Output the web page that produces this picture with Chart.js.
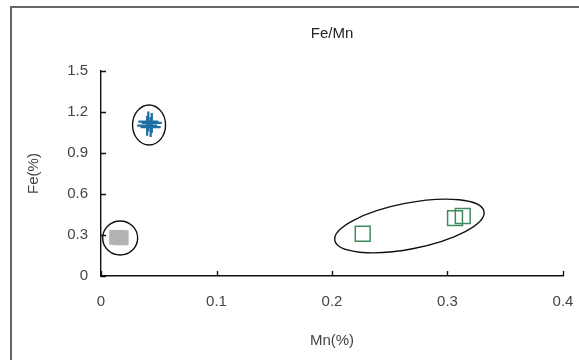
<!DOCTYPE html>
<html>
<head>
<meta charset="utf-8">
<script src="https://cdn.jsdelivr.net/npm/chart.js@4.4.0/dist/chart.umd.min.js"></script>
<style>
  html, body { margin: 0; padding: 0; background: #fff; }
  #wrap { position: relative; width: 579px; height: 360px; overflow: hidden; }
  #frame { position: absolute; left: 10px; top: 6px; width: 600px; height: 400px;
           border-top: 2px solid #666; border-left: 2px solid #666; box-sizing: border-box; }
  canvas { position: absolute; left: 0; top: 0; }
</style>
</head>
<body>
<div id="wrap">
  <div id="frame"></div>
  <canvas id="c" width="579" height="360"></canvas>
</div>
<script>
// Sample groups: Mn (%) vs Fe (%)
const groupA_mn = [0.040, 0.044, 0.041, 0.043];
const groupA_fe = [1.10, 1.12, 1.13, 1.09];
const groupB_mn = [0.0135, 0.0175, 0.0160];
const groupB_fe = [0.283, 0.279, 0.281];
const groupC_mn = [0.2266, 0.3065, 0.3132];
const groupC_fe = [0.309, 0.424, 0.439];

// Cluster outlines: centres in data units
const ringCenters_mn = [0.0416, 0.0166, 0.267];
const ringCenters_fe = [1.105, 0.278, 0.366];

const xTicks = [0, 0.1, 0.2, 0.3, 0.4];
const yTicks = [0, 0.3, 0.6, 0.9, 1.2, 1.5];

const pts = (xs, ys) => xs.map((x, i) => ({ x, y: ys[i] }));

// outline sizes (pixels) and tilt for each cluster ring
const ringShapes = [
  { rx: 16.5, ry: 20, rot: 0 },
  { rx: 17.5, ry: 17, rot: 0 },
  { rx: 76, ry: 23, rot: -11 * Math.PI / 180 }
];

const ringPlugin = {
  id: 'rings',
  afterDatasetsDraw(chart) {
    const { ctx, scales: { x, y } } = chart;
    ctx.save();
    ctx.strokeStyle = '#111';
    ctx.lineWidth = 1.4;
    ringCenters_mn.forEach((mn, i) => {
      const s = ringShapes[i];
      ctx.beginPath();
      ctx.ellipse(x.getPixelForValue(mn), y.getPixelForValue(ringCenters_fe[i]), s.rx, s.ry, s.rot, 0, Math.PI * 2);
      ctx.stroke();
    });
    ctx.restore();
  }
};

// inward tick marks along both axes
const innerTicks = {
  id: 'innerTicks',
  afterDraw(chart) {
    const { ctx, chartArea: a, scales: { x, y } } = chart;
    ctx.save();
    ctx.strokeStyle = '#111';
    ctx.lineWidth = 1.4;
    ctx.beginPath();
    x.ticks.forEach(t => {
      const px = Math.round(x.getPixelForValue(t.value)) + 0.5;
      ctx.moveTo(px, a.bottom); ctx.lineTo(px, a.bottom - 5);
    });
    y.ticks.forEach(t => {
      const py = Math.round(y.getPixelForValue(t.value)) + 0.5;
      ctx.moveTo(a.left, py); ctx.lineTo(a.left + 5, py);
    });
    ctx.stroke();
    ctx.restore();
  }
};

const font = { family: "'Liberation Sans', Arial, sans-serif", size: 15 };

new Chart(document.getElementById('c'), {
  type: 'scatter',
  data: {
    datasets: [
      { data: pts(groupB_mn, groupB_fe), pointStyle: 'rect', pointRadius: 10.5,
        backgroundColor: '#b3b3b3', borderColor: '#b3b3b3', borderWidth: 0 },
      { data: pts(groupA_mn, groupA_fe), pointStyle: 'cross', pointRadius: 10,
        borderColor: '#1c6ea4', borderWidth: 2.2 },
      { data: pts(groupC_mn, groupC_fe), pointStyle: 'rect', pointRadius: 10.5,
        backgroundColor: 'rgba(0,0,0,0)', borderColor: '#3d8b5e', borderWidth: 1.5 }
    ]
  },
  options: {
    responsive: false,
    animation: false,
    events: [],
    layout: { padding: { left: 20, top: 15, right: 16, bottom: 8 } },
    plugins: {
      legend: { display: false },
      tooltip: { enabled: false },
      title: { display: true, fullSize: false, text: 'Fe/Mn', color: '#222',
               font: { ...font, weight: 'normal' }, padding: { top: 10, bottom: 28 } }
    },
    scales: {
      x: {
        type: 'linear', min: 0, max: 0.4,
        afterBuildTicks: s => { s.ticks = xTicks.map(v => ({ value: v })); },
        afterFit: s => { s.height = 76; s.paddingRight = 0; s.paddingLeft = 0; },
        ticks: { color: '#444', font, padding: 17, callback: v => String(v) },
        grid: { display: false, drawTicks: false },
        border: { display: true, color: '#111', width: 1.4 },
        title: { display: true, text: 'Mn(%)', color: '#444', font, padding: { top: 0, bottom: 2 } }
      },
      y: {
        type: 'linear', min: 0, max: 1.5,
        afterBuildTicks: s => { s.ticks = yTicks.map(v => ({ value: v })); },
        afterFit: s => { s.width = 81; },
        ticks: { color: '#444', font, padding: 13, callback: v => String(v) },
        grid: { display: false, drawTicks: false },
        border: { display: true, color: '#111', width: 1.4 },
        title: { display: true, text: 'Fe(%)', color: '#444', font, padding: { top: 5, bottom: 0 } }
      }
    }
  },
  plugins: [ringPlugin, innerTicks]
});
</script>
</body>
</html>
